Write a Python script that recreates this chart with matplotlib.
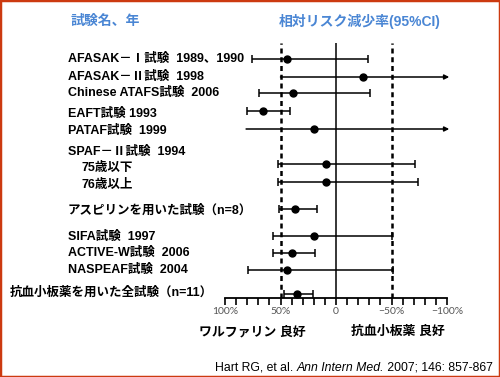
import matplotlib
matplotlib.use("Agg")
import matplotlib.pyplot as plt
from matplotlib.patches import Rectangle

plt.rcParams['font.family'] = ['Liberation Sans', 'Noto Sans CJK JP', 'DejaVu Sans']

# data: relative risk reduction (%) and 95% CI
labels = ["AFASAK－Ⅰ試験  1989、1990", "AFASAK－Ⅱ試験  1998", "Chinese ATAFS試験  2006",
          "EAFT試験 1993", "PATAF試験  1999", "SPAF－Ⅱ試験  1994", "75歳以下", "76歳以上",
          "アスピリンを用いた試験（n=8）", "SIFA試験  1997", "ACTIVE-W試験  2006",
          "NASPEAF試験  2004", "抗血小板薬を用いた全試験（n=11）"]
rrr = [44, -24, 39, 66, 20, None, 9, 9, 37, 20, 40, 44, 35]
ci_low = [76, 50, 69, 80, 81, None, 52, 52, 51, 57, 57, 79, 47]
ci_high = [-29, -102, -31, 41, -102, None, -71, -74, 17, -50, 19, -51, 21]
open_end = [False, True, False, False, True, False, False, False, False, False, False, False, False]

tick_vals = [100, 50, 0, -50, -100]
tick_labels = ["100%", "50%", "0", "−50%", "−100%"]

# layout (pixel rows of the 500x377 picture)
W, H = 500, 377
row_y = [59, 77, 93, 111, 129, 152, 164, 182, 209, 236, 253, 270, 294]
label_dy = [0, 0, 0, 3, 2, 0, 4, 3, 2, 1, 0, 0, -1]
label_x = [68, 68, 68, 68, 68, 68, 82, 82, 68, 68, 68, 68, 10]

fig = plt.figure(figsize=(5, 3.77), dpi=100)
fig.patch.set_facecolor('white')
fig.patches.append(Rectangle((0, 0), 1, 1, transform=fig.transFigure, fill=False,
                             edgecolor='#cc3a10', linewidth=2.5))

def fx(px):
    return px / W

def fy(py):
    return 1 - py / H

top, axis_y = 43, 298
ax = fig.add_axes([fx(225), fy(axis_y), fx(447) - fx(225), fy(top) - fy(axis_y)])
ax.set_xlim(100, -100)
ax.set_ylim(axis_y, top)
ax.patch.set_alpha(0)
for s in ['top', 'right', 'left']:
    ax.spines[s].set_visible(False)
ax.spines['bottom'].set_linewidth(1.3)
ax.set_yticks([])
ax.set_xticks(range(100, -101, -10))
ax.set_xticklabels([tick_labels[tick_vals.index(v)] if v in tick_vals else "" for v in range(100, -101, -10)],
                   fontsize=7.5, color='#555555', family='Lato')
ax.tick_params(axis='x', direction='out', length=5, width=1.2, pad=1.5)

ax.axvline(0, color='black', lw=1.1)
ax.axvline(50, color='black', lw=1.8, ls=(0, (2, 1.5)))
ax.axvline(-50, color='black', lw=1.8, ls=(0, (2, 1.5)))

for i in range(len(labels)):
    y = row_y[i]
    fig.text(fx(label_x[i]), fy(y + label_dy[i]), labels[i], fontsize=9, fontweight='bold',
             va='center', ha='left')
    if rrr[i] is None:
        continue
    if open_end[i]:
        ax.annotate("", xy=(ci_high[i], y), xytext=(ci_low[i], y),
                    arrowprops=dict(arrowstyle='-|>', color='black', lw=1.1,
                                    mutation_scale=7, shrinkA=0, shrinkB=0),
                    annotation_clip=False)
        ax.errorbar([rrr[i]], [y], fmt='o', color='black', ms=5)
    else:
        # inverted axis: lower x error goes to ci_high, upper to ci_low
        ax.errorbar([rrr[i]], [y], xerr=[[rrr[i] - ci_high[i]], [ci_low[i] - rrr[i]]],
                    fmt='o', color='black', ms=5, elinewidth=1.1, capsize=3, capthick=1.1,
                    clip_on=False)

blue = '#4a86d4'
fig.text(fx(71), fy(21), "試験名、年", fontsize=10, fontweight='bold', color=blue,
         va='center', ha='left')
fig.text(fx(360), fy(21), "相対リスク減少率(95%CI)", fontsize=10, fontweight='bold',
         color=blue, va='center', ha='center')

fig.text(fx(252), fy(332), "ワルファリン 良好", fontsize=9.3, fontweight='bold',
         va='center', ha='center')
fig.text(fx(398), fy(332), "抗血小板薬 良好", fontsize=9.3, fontweight='bold',
         va='center', ha='center')

# citation with italic journal name
fig.canvas.draw()
r = fig.canvas.get_renderer()
t3 = fig.text(fx(493), fy(368), " 2007; 146: 857-867", fontsize=8.8, va='center', ha='right')
x3 = t3.get_window_extent(r).x0
t2 = fig.text(x3 / fig.bbox.width, fy(368), "Ann Intern Med.", fontsize=8.8, va='center',
              ha='right', style='italic')
x2 = t2.get_window_extent(r).x0
fig.text(x2 / fig.bbox.width, fy(368), "Hart RG, et al. ", fontsize=8.8, va='center',
         ha='right')

fig.savefig("out.png", dpi=100)
